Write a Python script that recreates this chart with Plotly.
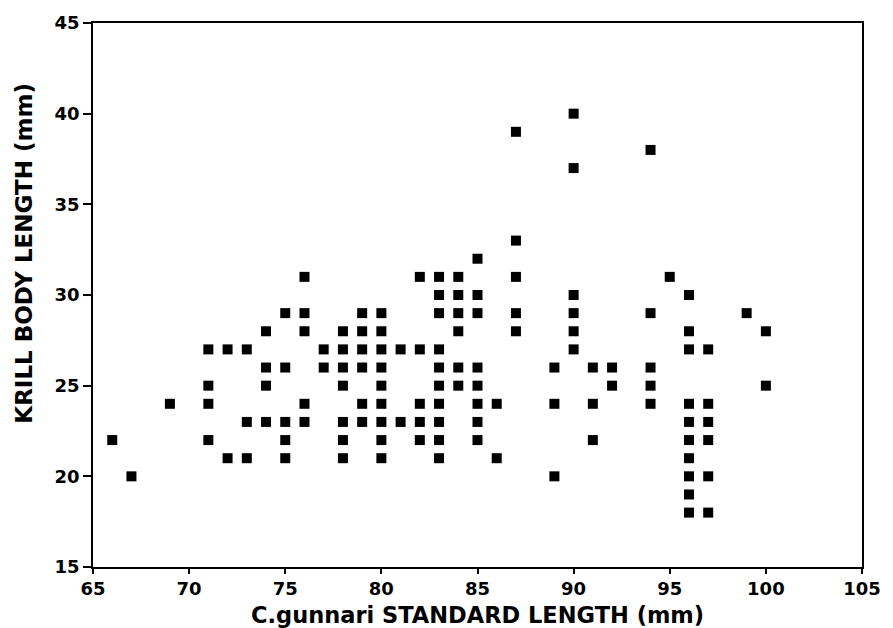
import plotly.graph_objects as go

# C.gunnari standard length (mm) and krill body length (mm), read per column
fish_length = (
    [66] + [67] + [69]
    + [71] * 4 + [72] * 2 + [73] * 3 + [74] * 4 + [75] * 5 + [76] * 5
    + [77] * 2 + [78] * 7 + [79] * 6 + [80] * 9 + [81] * 2 + [82] * 5
    + [83] * 10 + [84] * 6 + [85] * 8 + [86] * 2 + [87] * 5
    + [89] * 3 + [90] * 6 + [91] * 3 + [92] * 2 + [94] * 5 + [95] * 1
    + [96] * 10 + [97] * 6 + [99] * 1 + [100] * 2
)
krill_length = (
    [22] + [20] + [24]
    + [27, 25, 24, 22]
    + [27, 21]
    + [27, 23, 21]
    + [28, 26, 25, 23]
    + [29, 26, 23, 22, 21]
    + [31, 29, 28, 24, 23]
    + [27, 26]
    + [28, 27, 26, 25, 23, 22, 21]
    + [29, 28, 27, 26, 24, 23]
    + [29, 28, 27, 26, 25, 24, 23, 22, 21]
    + [27, 23]
    + [31, 27, 24, 23, 22]
    + [31, 30, 29, 27, 26, 25, 24, 23, 22, 21]
    + [31, 30, 29, 28, 26, 25]
    + [32, 30, 29, 26, 25, 24, 23, 22]
    + [24, 21]
    + [39, 33, 31, 29, 28]
    + [26, 24, 20]
    + [40, 37, 30, 29, 28, 27]
    + [26, 24, 22]
    + [26, 25]
    + [38, 29, 26, 25, 24]
    + [31]
    + [30, 28, 27, 24, 23, 22, 21, 20, 19, 18]
    + [27, 24, 23, 22, 20, 18]
    + [29]
    + [28, 25]
)

x_ticks = [65, 70, 75, 80, 85, 90, 95, 100, 105]
y_ticks = [15, 20, 25, 30, 35, 40, 45]

FONT = "DejaVu Sans"

fig = go.Figure()
fig.add_trace(go.Scatter(
    x=fish_length, y=krill_length, mode="markers",
    marker=dict(symbol="square", size=10, color="black", line=dict(width=0)),
    showlegend=False, hoverinfo="x+y",
))

axis_common = dict(
    showgrid=False, zeroline=False, showline=True, linecolor="black",
    linewidth=1.5, mirror=True, ticks="outside", tickcolor="black",
    tickwidth=1.5,
    tickfont=dict(family=FONT, size=18, color="black", weight="bold"),
)

fig.update_layout(
    width=893, height=628,
    margin=dict(l=93, r=31, t=15, b=61),
    paper_bgcolor="white", plot_bgcolor="white",
    xaxis=dict(range=[65, 105], tickvals=x_ticks,
               ticktext=["<b>%d</b>" % v for v in x_ticks], ticklen=5,
               **axis_common),
    yaxis=dict(range=[15, 45], tickvals=y_ticks,
               ticktext=["<b>%d</b>" % v for v in y_ticks], ticklen=8,
               **axis_common),
    annotations=[
        dict(text="<b>C.gunnari STANDARD LENGTH (mm)</b>", xref="paper",
             yref="paper", x=0.5, y=-0.088, xanchor="center",
             yanchor="middle", showarrow=False,
             font=dict(family=FONT, size=22.5, color="black")),
        dict(text="<b>KRILL BODY LENGTH (mm)</b>", xref="paper",
             yref="paper", x=-0.0897, y=0.576, xanchor="center",
             yanchor="middle", textangle=-90, showarrow=False,
             font=dict(family=FONT, size=23, color="black")),
    ],
)

fig.write_html("out.html")
